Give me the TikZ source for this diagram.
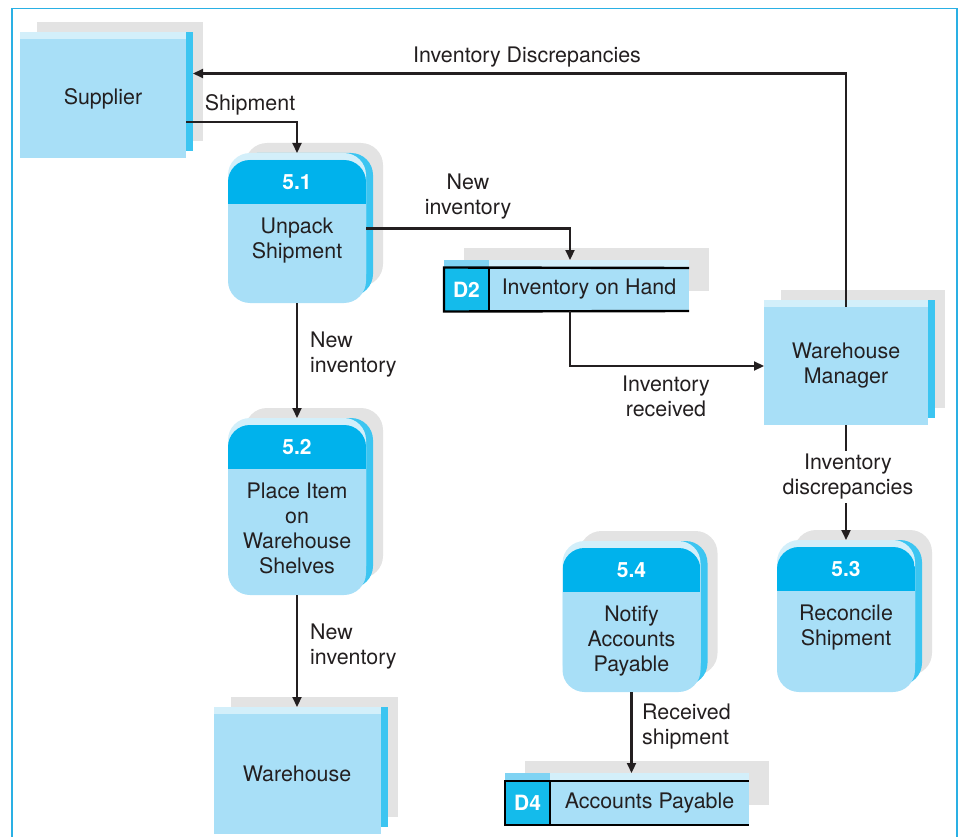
\documentclass[tikz,border=0pt]{standalone}
\usepackage{fontspec}
\setmainfont{TeX Gyre Heros}
\usetikzlibrary{arrows.meta,positioning,shadows}
\definecolor{bodyblue}{HTML}{A8DFF7}
\definecolor{headblue}{HTML}{00B2EC}
\definecolor{sideblue}{HTML}{3CC5F1}
\definecolor{topblue}{HTML}{D3EFFA}
\definecolor{idblue}{HTML}{14BBEB}
\definecolor{idtop}{HTML}{7FD3F3}
\definecolor{framblue}{HTML}{2AB0E4}
\definecolor{ink}{HTML}{231F20}

\begin{document}
\begin{tikzpicture}[
  x=1pt, y=-1pt,
  font=\fontsize{21.4}{25}\selectfont, text=ink,
  >={Triangle[length=10pt,width=9pt]},
  flow/.style={->, line width=2.2pt, draw=ink},
  lbl/.style={align=center, inner sep=1pt},
  lblleft/.style={align=left, inner sep=1pt, anchor=west},
  shade3d/.style={general shadow={shadow xshift=17pt, shadow yshift=17pt, fill=black!11},
                  general shadow={shadow xshift=7pt, shadow yshift=7pt, fill=sideblue},
                  general shadow={shadow yshift=7pt, fill=topblue}},
  entity/.style={shade3d, fill=bodyblue, minimum width=166pt, minimum height=#1, outer sep=0pt, align=center},
  entity/.default=119pt,
  process/.style={shade3d, fill=bodyblue, rounded corners=22pt, minimum width=138pt, minimum height=#1, outer sep=0pt},
  numtxt/.style={text=white, font=\fontsize{21}{25}\selectfont\bfseries},
  proctxt/.style={align=center, anchor=north, inner sep=0pt},
  storeid/.style={general shadow={shadow xshift=20pt, shadow yshift=20pt, fill=black!11},
                  general shadow={shadow yshift=8pt, fill=idtop},
                  fill=idblue, text=white, font=\fontsize{21}{25}\selectfont\bfseries,
                  minimum width=45pt, minimum height=44pt, inner sep=0pt, outer sep=0pt},
  store/.style={general shadow={shadow xshift=20pt, shadow yshift=20pt, fill=black!11},
                general shadow={shadow yshift=8pt, fill=topblue},
                fill=bodyblue, minimum width=#1, minimum height=44pt, inner sep=0pt, outer sep=0pt},
  store/.default=200pt]
\useasboundingbox (0,0) rectangle (958,837);
\draw[framblue, line width=1.5pt] (12,845) -- (12,8.5) -- (957,8.5) -- (957,845);

% external entities
\node[entity] (sup) at (103,98.5) {Supplier};
\node[entity=118pt, minimum width=164pt] (wm) at (846,366) {Warehouse\\Manager};

% processes
\node[process=143pt] (p51) at (297,231.5) {};
\node[process=170pt, below=122pt of p51] (p52) {};
\node[entity=120pt, minimum width=167pt, below=119pt of p52] (wh) {Warehouse};
\node[process=145pt, below=122pt of wm] (p53) {};
\node[process=144pt] (p54) at (631.5,620) {};
\foreach \p/\n/\t in {p51/5.1/{Unpack\\Shipment}, p52/5.2/{Place Item\\on\\Warehouse\\Shelves},
                      p53/5.3/{Reconcile\\Shipment}, p54/5.4/{Notify\\Accounts\\Payable}} {
  \begin{scope}
    \clip[rounded corners=22pt] (\p.south west) rectangle (\p.north east);
    \fill[headblue] (\p.north west) rectangle ([yshift=-44pt]\p.north east);
  \end{scope}
  \node[numtxt] (\p num) at ([yshift=-22pt]\p.north) {\n};
  \node[proctxt] (\p txt) at ([yshift=-58pt]\p.north) {\t};
}

% data stores
\node[storeid] (d2id) at (466.5,289.5) {D2};
\node[store, minimum height=43pt, right=0pt of d2id] (d2) {Inventory on Hand};
\node[storeid] (d4id) at (527.5,803) {D4};
\node[store=199pt, right=0pt of d4id] (d4) {Accounts Payable};
\foreach \s in {d2,d4} {
  \draw[line width=2.4pt, line join=miter] (\s.north east) -- (\s id.north west) -- (\s id.south west) -- (\s.south east);
  \draw[line width=2.4pt] (\s id.north east) -- (\s id.south east);
}

% flows
\draw[flow] (wm.north) |- ([xshift=7pt,yshift=25pt]sup.east);
\node[lbl] (tdisc) at (527,57) {Inventory Discrepancies};
\draw[flow] ([yshift=-23.5pt]sup.east) -| ([yshift=7pt]p51.north);
\node[lbl] (tship) at (250,105) {Shipment};
\draw[flow] ([yshift=3pt]p51.east) -| ([xshift=-19pt,yshift=8pt]d2.north);
\node[lbl] (tnew1) at (468,197) {New\\inventory};
\draw[flow] (p51.south) -- ([yshift=7pt]p52.north);
\node[lblleft] (tnew2) at (309,355) {New\\inventory};
\draw[flow] (p52.south) -- ([yshift=7pt]wh.north);
\node[lblleft] (tnew3) at (309,647) {New\\inventory};
\draw[flow] ([xshift=-19pt]d2.south) |- (wm.west);
\node[lbl] (trecv) at (666,396) {Inventory\\received};
\draw[flow] (wm.south) -- ([yshift=7pt]p53.north);
\node[lbl, fill=white, inner sep=3pt] (tdisc2) at (848,477) {Inventory\\discrepancies};
\coordinate (d4in) at (p54.south |- d4.north);
\draw[flow] (p54.south) -- ([yshift=8pt]d4in);
\node[lblleft] (tpay) at (641,727) {Received\\shipment};
\end{tikzpicture}
\end{document}
